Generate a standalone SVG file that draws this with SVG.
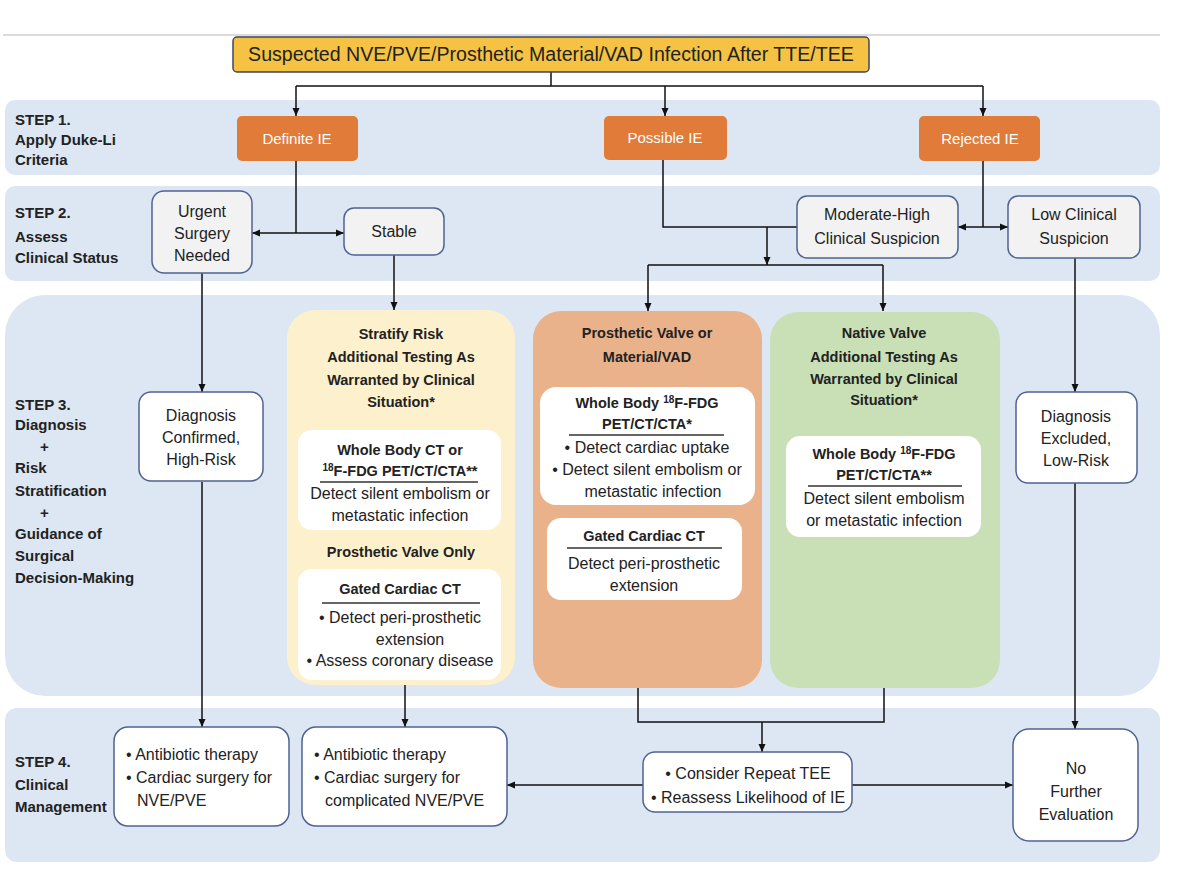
<svg xmlns="http://www.w3.org/2000/svg" width="1200" height="880" viewBox="0 0 1200 880">
<defs>
<marker id="ah" markerWidth="8" markerHeight="8" refX="8" refY="4" orient="auto" markerUnits="userSpaceOnUse">
<path d="M0,0.5 L8,4 L0,7.5 z" fill="#111"/>
</marker>
<style>
text{font-family:"Liberation Sans",Arial,sans-serif;fill:#222;}
.t{font-size:16px;text-anchor:middle;}
.tl{font-size:16px;}
.b{font-size:14.5px;font-weight:bold;text-anchor:middle;}
.step{font-size:15px;font-weight:bold;}
.w{font-size:15px;fill:#fff;text-anchor:middle;}
.band{fill:#dde7f3;}
.n{fill:#f2f2f2;stroke:#4f6391;stroke-width:1.5;}
.nw{fill:#fff;stroke:#4f6391;stroke-width:1.5;}
.ie{fill:#e07b39;}
.wb{fill:#fff;}
.ul{stroke:#333;stroke-width:1.3;}
.c{fill:none;stroke:#111;stroke-width:1.5;}
.ca{fill:none;stroke:#111;stroke-width:1.5;marker-end:url(#ah);}
.sup{font-size:10px;}
</style>
</defs>
<rect x="0" y="0" width="1200" height="880" fill="#fff"/>
<line x1="3" y1="35" x2="1160" y2="35" stroke="#cfcfcf" stroke-width="1.5"/>

<g id="bands">
<rect class="band" x="5" y="100" width="1155" height="75" rx="10"/>
<rect class="band" x="5" y="186" width="1155" height="95" rx="10"/>
<rect class="band" x="5" y="295" width="1155" height="401" rx="40"/>
<rect class="band" x="5" y="708" width="1155" height="154" rx="12"/>
</g>

<g id="step-labels">
<text class="step" x="15" y="125">STEP 1.</text>
<text class="step" x="15" y="145">Apply Duke-Li</text>
<text class="step" x="15" y="165">Criteria</text>
<text class="step" x="15" y="218">STEP 2.</text>
<text class="step" x="15" y="242">Assess</text>
<text class="step" x="15" y="263">Clinical Status</text>
<text class="step" x="15" y="410">STEP 3.</text>
<text class="step" x="15" y="430">Diagnosis</text>
<text class="step" x="40" y="452">+</text>
<text class="step" x="15" y="473">Risk</text>
<text class="step" x="15" y="496">Stratification</text>
<text class="step" x="40" y="518">+</text>
<text class="step" x="15" y="539">Guidance of</text>
<text class="step" x="15" y="561">Surgical</text>
<text class="step" x="15" y="583">Decision-Making</text>
<text class="step" x="15" y="767">STEP 4.</text>
<text class="step" x="15" y="790">Clinical</text>
<text class="step" x="15" y="812">Management</text>
</g>

<g id="connectors">
<path class="c" d="M551 72 V86 M296 86 H983"/>
<path class="ca" d="M296 86 V116"/>
<path class="ca" d="M665 86 V116"/>
<path class="ca" d="M983 86 V116"/>
<path class="c" d="M296 161 V233"/>
<path class="ca" d="M296 233 H252"/>
<path class="ca" d="M296 233 H344"/>
<path class="c" d="M663 160 V227 H797"/>
<path class="ca" d="M767 227 V265"/>
<path class="c" d="M648 265 H883"/>
<path class="ca" d="M648 265 V311"/>
<path class="ca" d="M883 265 V311"/>
<path class="c" d="M983 161 V227"/>
<path class="ca" d="M983 227 H958"/>
<path class="ca" d="M983 227 H1008"/>
<path class="ca" d="M202 273 V392"/>
<path class="ca" d="M394 255 V310"/>
<path class="ca" d="M1075 258 V392"/>
<path class="ca" d="M202 482 V727"/>
<path class="ca" d="M405 685 V727"/>
<path class="c" d="M638 688 V722 H884 V688"/>
<path class="ca" d="M762 722 V752"/>
<path class="ca" d="M643 785 H507"/>
<path class="ca" d="M852 785 H1013"/>
<path class="ca" d="M1075 483 V729"/>
</g>

<g id="top">
<rect x="233" y="37" width="636" height="35" rx="4" fill="#f5c243" stroke="#3f4660" stroke-width="1.5"/>
<text x="551" y="61" style="font-size:19.6px;text-anchor:middle;">Suspected NVE/PVE/Prosthetic Material/VAD Infection After TTE/TEE</text>
</g>

<g id="definite-ie">
<rect class="ie" x="237" y="116" width="121" height="45" rx="5"/>
<text class="w" x="297" y="144">Definite IE</text>
</g>
<g id="possible-ie">
<rect class="ie" x="604" y="116" width="123" height="44" rx="5"/>
<text class="w" x="665" y="143">Possible IE</text>
</g>
<g id="rejected-ie">
<rect class="ie" x="919" y="116" width="121" height="45" rx="5"/>
<text class="w" x="980" y="144">Rejected IE</text>
</g>

<g id="urgent">
<rect class="n" x="152" y="191" width="100" height="82" rx="12"/>
<text class="t" x="202" y="217">Urgent</text>
<text class="t" x="202" y="239">Surgery</text>
<text class="t" x="202" y="261">Needed</text>
</g>
<g id="stable">
<rect class="n" x="344" y="208" width="100" height="47" rx="10"/>
<text class="t" x="394" y="237">Stable</text>
</g>
<g id="moderate-high">
<rect class="n" x="797" y="196" width="161" height="62" rx="10"/>
<text class="t" x="877" y="220">Moderate-High</text>
<text class="t" x="877" y="244">Clinical Suspicion</text>
</g>
<g id="low-clinical">
<rect class="n" x="1008" y="196" width="132" height="62" rx="10"/>
<text class="t" x="1074" y="220">Low Clinical</text>
<text class="t" x="1074" y="244">Suspicion</text>
</g>

<g id="diag-confirmed">
<rect class="nw" x="139" y="392" width="124" height="89" rx="12"/>
<text class="t" x="201" y="421">Diagnosis</text>
<text class="t" x="201" y="443">Confirmed,</text>
<text class="t" x="201" y="465">High-Risk</text>
</g>

<g id="stratify">
<rect x="287" y="310" width="228" height="375" rx="28" fill="#fdf1cd"/>
<text class="b" x="401" y="339">Stratify Risk</text>
<text class="b" x="401" y="362">Additional Testing As</text>
<text class="b" x="401" y="385">Warranted by Clinical</text>
<text class="b" x="401" y="407">Situation*</text>
<rect class="wb" x="298" y="430" width="203" height="100" rx="14"/>
<text class="b" x="400" y="455">Whole Body CT or</text>
<text class="b" x="400" y="476"><tspan class="sup" baseline-shift="super">18</tspan>F-FDG PET/CT/CTA**</text>
<line class="ul" x1="320" y1="482" x2="478" y2="482"/>
<text class="t" x="400" y="499">Detect silent embolism or</text>
<text class="t" x="400" y="521">metastatic infection</text>
<text class="b" x="401" y="557">Prosthetic Valve Only</text>
<rect class="wb" x="298" y="569" width="203" height="111" rx="14"/>
<text class="b" x="400" y="594">Gated Cardiac CT</text>
<line class="ul" x1="322" y1="603" x2="480" y2="603"/>
<text class="t" x="400" y="623">• Detect peri-prosthetic</text>
<text class="t" x="410" y="645">extension</text>
<text class="t" x="400" y="666">• Assess coronary disease</text>
</g>

<g id="prosthetic">
<rect x="533" y="311" width="229" height="377" rx="28" fill="#eab28a"/>
<text class="b" x="647" y="338">Prosthetic Valve or</text>
<text class="b" x="647" y="362">Material/VAD</text>
<rect class="wb" x="540" y="387" width="215" height="118" rx="16"/>
<text class="b" x="647" y="408">Whole Body <tspan class="sup" baseline-shift="super">18</tspan>F-FDG</text>
<text class="b" x="647" y="429">PET/CT/CTA*</text>
<line class="ul" x1="569" y1="435" x2="724" y2="435"/>
<text class="t" x="647" y="453">• Detect cardiac uptake</text>
<text class="t" x="647" y="475">• Detect silent embolism or</text>
<text class="t" x="653" y="497">metastatic infection</text>
<rect class="wb" x="547" y="518" width="195" height="82" rx="14"/>
<text class="b" x="644" y="541">Gated Cardiac CT</text>
<line class="ul" x1="567" y1="548" x2="722" y2="548"/>
<text class="t" x="644" y="569">Detect peri-prosthetic</text>
<text class="t" x="644" y="591">extension</text>
</g>

<g id="native">
<rect x="770" y="312" width="230" height="376" rx="28" fill="#c9dfb5"/>
<text class="b" x="884" y="338">Native Valve</text>
<text class="b" x="884" y="362">Additional Testing As</text>
<text class="b" x="884" y="384">Warranted by Clinical</text>
<text class="b" x="884" y="405">Situation*</text>
<rect class="wb" x="786" y="436" width="195" height="101" rx="14"/>
<text class="b" x="884" y="459">Whole Body <tspan class="sup" baseline-shift="super">18</tspan>F-FDG</text>
<text class="b" x="884" y="480">PET/CT/CTA**</text>
<line class="ul" x1="808" y1="486" x2="962" y2="486"/>
<text class="t" x="884" y="504">Detect silent embolism</text>
<text class="t" x="884" y="526">or metastatic infection</text>
</g>

<g id="diag-excluded">
<rect class="nw" x="1016" y="392" width="121" height="91" rx="12"/>
<text class="t" x="1076" y="422">Diagnosis</text>
<text class="t" x="1076" y="444">Excluded,</text>
<text class="t" x="1076" y="466">Low-Risk</text>
</g>

<g id="mgmt-urgent">
<rect class="nw" x="114" y="727" width="175" height="99" rx="14"/>
<text class="tl" x="126" y="760">• Antibiotic therapy</text>
<text class="tl" x="126" y="783">• Cardiac surgery for</text>
<text class="tl" x="137" y="806">NVE/PVE</text>
</g>
<g id="mgmt-stable">
<rect class="nw" x="302" y="727" width="205" height="99" rx="14"/>
<text class="tl" x="314" y="760">• Antibiotic therapy</text>
<text class="tl" x="314" y="783">• Cardiac surgery for</text>
<text class="tl" x="325" y="806">complicated NVE/PVE</text>
</g>
<g id="repeat-tee">
<rect class="nw" x="643" y="752" width="209" height="60" rx="12"/>
<text class="t" x="748" y="779">• Consider Repeat TEE</text>
<text class="t" x="748" y="803">• Reassess Likelihood of IE</text>
</g>
<g id="no-further">
<rect class="nw" x="1013" y="729" width="125" height="112" rx="16"/>
<text class="t" x="1076" y="774">No</text>
<text class="t" x="1076" y="797">Further</text>
<text class="t" x="1076" y="820">Evaluation</text>
</g>
</svg>
